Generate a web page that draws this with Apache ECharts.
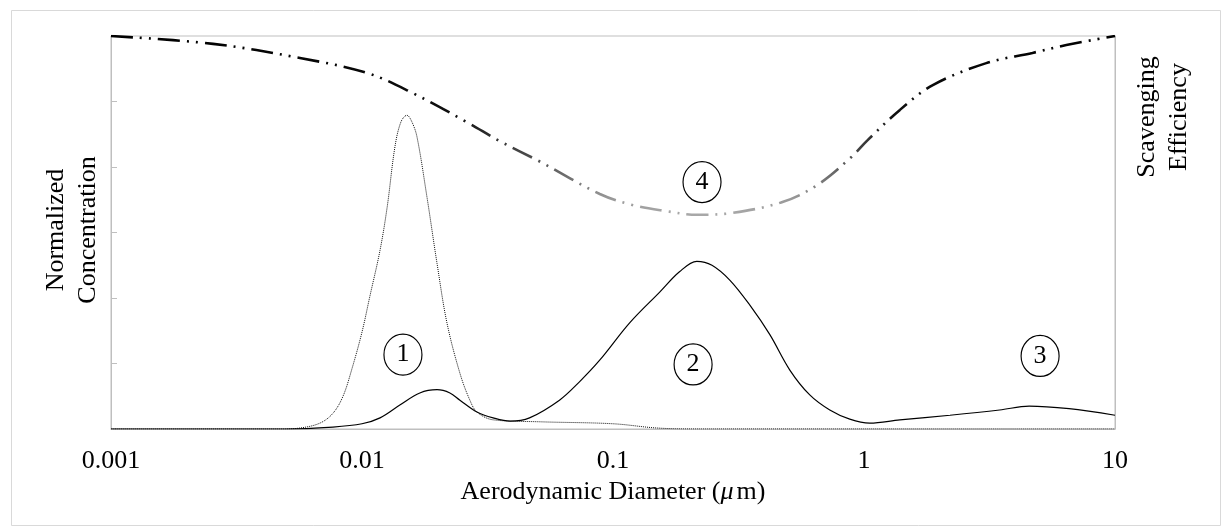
<!DOCTYPE html>
<html>
<head>
<meta charset="utf-8">
<script src="https://cdn.jsdelivr.net/npm/echarts@6/dist/echarts.min.js"></script>
<style>
  html, body { margin: 0; padding: 0; background: #fff; }
  #chart { width: 1227px; height: 531px; }
</style>
</head>
<body>
<div id="chart"></div>
<script>
// aerodynamic diameter (um) and normalized concentration
var xTickLabels = ['0.001', '0.01', '0.1', '1', '10'];

// mode 1 (nucleation peak, dotted)
var dottedD = [0.001, 0.0047, 0.00566, 0.0068, 0.00766, 0.0084, 0.00912, 0.01, 0.01074, 0.0118, 0.0126, 0.01353, 0.0143, 0.0151, 0.0158, 0.01656, 0.01815, 0.0199, 0.0218, 0.02456, 0.0269, 0.0287, 0.0333, 0.0512, 0.1, 0.15, 0.22, 10];
var dottedV = [0, 0, 0.015, 0.09, 0.24, 0.5, 0.92, 1.48, 2.02, 2.73, 3.39, 4.31, 4.69, 4.79, 4.69, 4.46, 3.54, 2.53, 1.62, 0.85, 0.44, 0.26, 0.14, 0.11, 0.08, 0.015, 0, 0];

// modes 1-3 (solid)
var solidD = [0.001, 0.00494, 0.00766, 0.01, 0.0118, 0.0142, 0.017, 0.0199, 0.0224, 0.02456, 0.0287, 0.0333, 0.0389, 0.0465, 0.0612, 0.0735, 0.0885, 0.1165, 0.1535, 0.184, 0.2157, 0.2479, 0.2925, 0.351, 0.4216, 0.5064, 0.608, 0.7306, 0.8775, 1.054, 1.389, 2.2, 3.47, 4.55, 6.56, 10];
var solidV = [0, 0, 0.03, 0.08, 0.17, 0.37, 0.55, 0.6, 0.55, 0.44, 0.26, 0.17, 0.12, 0.17, 0.44, 0.72, 1.05, 1.62, 2.09, 2.4, 2.56, 2.5, 2.27, 1.89, 1.44, 0.9, 0.52, 0.29, 0.15, 0.09, 0.14, 0.21, 0.29, 0.35, 0.31, 0.21];

// scavenging efficiency (right axis, 0-1)
var effD = [0.001, 0.00255, 0.00566, 0.01047, 0.0159, 0.02616, 0.0355, 0.0513, 0.0886, 0.1196, 0.1607, 0.2157, 0.3002, 0.4765, 0.6523, 0.8838, 1.034, 1.39, 1.88, 3.07, 4.69, 6.4, 10];
var effV = [1.0, 0.98, 0.944, 0.906, 0.855, 0.781, 0.732, 0.68, 0.598, 0.57, 0.555, 0.545, 0.55, 0.578, 0.621, 0.69, 0.735, 0.812, 0.875, 0.931, 0.957, 0.977, 1.0];

// circled mode numbers
var markNames = ['1', '2', '3', '4'];
var markD = [0.01456, 0.2085, 5.03, 0.2263];
var markV = [1.135, 0.985, 1.115, 3.77];

function pairs(xs, ys) {
    var out = [];
    for (var i = 0; i < xs.length; i++) out.push([xs[i], ys[i]]);
    return out;
}

var serif = '"Liberation Serif", "DejaVu Serif", serif';
var chart = echarts.init(document.getElementById('chart'));

var marks = [];
for (var i = 0; i < markNames.length; i++) {
    marks.push({ name: markNames[i], coord: [markD[i], markV[i]], value: markNames[i] });
}

var option = {
    backgroundColor: '#fff',
    animation: false,
    graphic: [
        {
            type: 'rect', left: 9, top: 8, z: -1,
            shape: { width: 1209, height: 515 },
            style: { fill: 'none', stroke: '#d9d9d9', lineWidth: 1 }
        },
        {
            type: 'text', x: 72, y: 230, rotation: Math.PI / 2,
            style: {
                text: 'Normalized\nConcentration', font: '26px ' + serif,
                fill: '#000', align: 'center', verticalAlign: 'middle', lineHeight: 32
            }
        },
        {
            type: 'text', x: 1163, y: 117, rotation: Math.PI / 2,
            style: {
                text: 'Scavenging\nEfficiency', font: '26px ' + serif,
                fill: '#000', align: 'center', verticalAlign: 'middle', lineHeight: 32
            }
        }
    ],
    grid: {
        left: 111, right: 112, top: 36, bottom: 102,
        show: true, borderColor: '#bfbfbf', borderWidth: 1
    },
    xAxis: {
        type: 'log', logBase: 10, min: 0.001, max: 10,
        axisLine: { lineStyle: { color: '#bfbfbf' } },
        axisTick: { show: false },
        splitLine: { show: false },
        axisLabel: {
            margin: 19, color: '#000', fontSize: 26, fontFamily: serif,
            formatter: function (v) {
                var k = Math.round(Math.log10(v)) + 3;
                return xTickLabels[k] || '';
            }
        },
        name: 'Aerodynamic Diameter ({i|μ}m)',
        nameLocation: 'middle', nameGap: 33,
        nameTextStyle: {
            color: '#000', fontSize: 26, fontFamily: serif, verticalAlign: 'top',
            rich: { i: { fontStyle: 'italic', fontSize: 26, fontFamily: serif, color: '#000', padding: [0, 3, 0, 0] } }
        }
    },
    yAxis: [
        {
            type: 'value', min: 0, max: 6, interval: 1,
            axisLine: { show: true, lineStyle: { color: '#bfbfbf' } },
            axisTick: { show: true, inside: true, length: 6, lineStyle: { color: '#bfbfbf' } },
            axisLabel: { show: false },
            splitLine: { show: false }
        },
        {
            type: 'value', min: 0, max: 1,
            axisLine: { show: true, lineStyle: { color: '#bfbfbf' } },
            axisTick: { show: false },
            axisLabel: { show: false },
            splitLine: { show: false }
        }
    ],
    series: [
        {
            name: 'Mode 1', type: 'line', data: pairs(dottedD, dottedV),
            showSymbol: false, smooth: 0.35, silent: true,
            lineStyle: { color: '#111', width: 1, type: [1, 1] }
        },
        {
            name: 'Modes', type: 'line', data: pairs(solidD, solidV),
            showSymbol: false, smooth: 0.35, silent: true,
            lineStyle: { color: '#000', width: 1.2 },
            markPoint: {
                silent: true,
                symbol: 'circle', symbolSize: [38, 41],
                itemStyle: { color: '#fff', borderColor: '#000', borderWidth: 1.2 },
                label: {
                    show: true, position: 'inside', color: '#000',
                    fontSize: 26, fontFamily: serif,
                    formatter: function (p) { return p.name; }
                },
                data: marks
            }
        },
        {
            name: 'Scavenging Efficiency', type: 'line', yAxisIndex: 1,
            data: pairs(effD, effV),
            showSymbol: false, smooth: 0.35, silent: true,
            lineStyle: {
                width: 2.6, type: [22, 7, 2, 7, 2, 7],
                color: new echarts.graphic.LinearGradient(0, 0, 0, 1, [
                    { offset: 0, color: '#000' },
                    { offset: 0.45, color: '#111' },
                    { offset: 0.7, color: '#555' },
                    { offset: 0.9, color: '#999' },
                    { offset: 1, color: '#aaa' }
                ])
            }
        }
    ]
};
chart.setOption(option);
</script>
</body>
</html>
